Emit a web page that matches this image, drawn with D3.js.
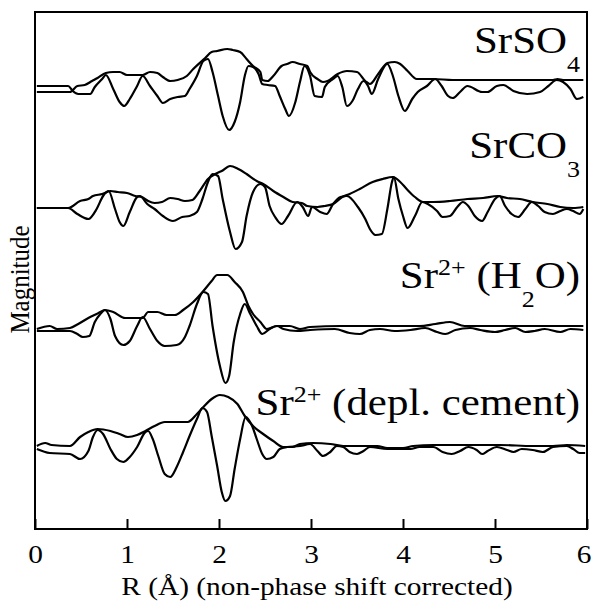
<!DOCTYPE html>
<html>
<head>
  <script src="https://cdnjs.cloudflare.com/ajax/libs/d3/7.8.5/d3.min.js"></script>
  <style>
    body { margin: 0; background: #fff; }
    .curve { fill: none; stroke: #000; stroke-width: 2.2; stroke-linejoin: round; }
    svg text { font-family: "Liberation Serif", Tinos, "Times New Roman", "DejaVu Serif", serif; fill: #000; }
  </style>
</head>
<body>
  <div id="chart"></div>
  <script>
    // x ticks / labels
    const xTicks = [0, 1, 2, 3, 4, 5, 6];
    const xTitle = "R (\u00C5) (non-phase shift corrected)";
    const yTitle = "Magnitude";

    // FT curves, [R, magnitude (arb. units incl. vertical offset)]
    const srso4Mag = [[0.02,437],[0.38,437],[0.46,443],[0.54,444],[0.62,448],[0.68,451],[0.77,456],[0.85,457],[0.92,457],[1.00,454],[1.17,454],[1.25,457],[1.33,456],[1.39,452],[1.47,448],[1.55,449],[1.65,453],[1.72,460],[1.85,471],[1.92,477],[1.98,478],[2.09,480],[2.15,479],[2.23,477],[2.30,470],[2.37,463],[2.45,457],[2.47,449],[2.53,448],[2.59,453],[2.68,463],[2.74,465],[2.80,467],[2.88,465],[2.96,463],[2.99,457],[3.07,450],[3.13,447],[3.18,448],[3.29,455],[3.39,458],[3.50,457],[3.59,448],[3.64,445],[3.73,455],[3.83,466],[3.91,467],[3.97,465],[4.05,458],[4.15,450],[4.33,450],[4.54,449],[5.05,449],[5.63,449],[5.68,450],[5.74,449],[5.96,449]];
    const srso4Im = [[0.02,443],[0.36,443],[0.41,438],[0.47,435],[0.60,435],[0.65,442],[0.73,450],[0.77,454],[0.85,440],[0.92,427],[0.97,423],[1.03,430],[1.11,443],[1.17,453],[1.25,443],[1.33,433],[1.39,426],[1.47,430],[1.55,432],[1.63,433],[1.68,440],[1.76,453],[1.83,468],[1.88,470],[1.93,457],[1.99,433],[2.04,413],[2.11,399],[2.17,407],[2.23,427],[2.28,453],[2.32,463],[2.37,462],[2.43,455],[2.47,445],[2.53,444],[2.61,443],[2.66,433],[2.72,420],[2.76,413],[2.83,427],[2.88,447],[2.93,463],[2.99,453],[3.04,433],[3.12,432],[3.15,442],[3.24,450],[3.29,453],[3.34,442],[3.39,423],[3.45,428],[3.51,440],[3.57,448],[3.62,443],[3.66,435],[3.73,450],[3.83,465],[3.89,453],[3.95,433],[4.02,418],[4.10,430],[4.16,437],[4.26,443],[4.35,450],[4.42,443],[4.49,433],[4.54,431],[4.62,437],[4.70,443],[4.86,437],[4.92,437],[5.02,443],[5.09,444],[5.20,438],[5.35,435],[5.49,437],[5.58,443],[5.67,449],[5.74,447],[5.82,440],[5.89,430],[5.96,432]];

    const srco3Mag = [[0.02,321],[0.36,321],[0.49,328],[0.58,330],[0.63,333],[0.73,335],[0.82,338],[0.90,337],[1.00,336],[1.09,333],[1.16,332],[1.23,328],[1.30,326],[1.38,327],[1.47,331],[1.55,330],[1.63,328],[1.71,329],[1.79,338],[1.88,350],[1.96,355],[2.03,358],[2.12,363],[2.21,360],[2.30,355],[2.41,348],[2.48,345],[2.59,338],[2.70,332],[2.80,327],[2.90,326],[2.96,323],[3.07,322],[3.15,323],[3.24,325],[3.34,332],[3.42,335],[3.53,340],[3.67,347],[3.78,350],[3.89,352],[3.97,347],[4.04,340],[4.13,332],[4.22,327],[4.33,327],[4.51,328],[4.70,330],[4.87,331],[5.03,333],[5.13,331],[5.27,330],[5.41,327],[5.57,325],[5.71,322],[5.85,321],[5.96,322]];
    const srco3Im = [[0.02,321],[0.36,321],[0.46,315],[0.58,310],[0.67,320],[0.74,333],[0.80,338],[0.87,320],[0.92,307],[0.96,303],[1.03,317],[1.11,332],[1.14,333],[1.22,325],[1.30,320],[1.39,313],[1.50,308],[1.60,312],[1.68,313],[1.76,317],[1.82,330],[1.88,347],[1.93,355],[1.99,353],[2.04,330],[2.12,297],[2.18,280],[2.25,287],[2.30,313],[2.37,337],[2.45,345],[2.50,342],[2.55,323],[2.61,312],[2.68,305],[2.75,313],[2.85,327],[2.91,322],[2.97,313],[3.01,322],[3.10,317],[3.17,315],[3.24,325],[3.32,332],[3.39,333],[3.51,322],[3.59,310],[3.64,300],[3.70,294],[3.77,295],[3.83,320],[3.88,347],[3.90,352],[3.95,330],[4.00,313],[4.05,301],[4.13,313],[4.21,327],[4.27,325],[4.37,318],[4.43,312],[4.51,313],[4.59,322],[4.65,327],[4.71,323],[4.78,313],[4.86,308],[4.92,317],[5.00,330],[5.05,333],[5.11,323],[5.18,315],[5.25,312],[5.33,320],[5.40,327],[5.47,323],[5.54,317],[5.63,315],[5.71,318],[5.78,320],[5.85,318],[5.92,315],[5.96,320]];

    const h2oMag = [[0.02,200],[0.16,203],[0.24,200],[0.38,201],[0.47,205],[0.58,211],[0.67,215],[0.76,219],[0.85,217],[0.98,211],[1.17,211],[1.23,217],[1.33,217],[1.43,214],[1.52,214],[1.61,219],[1.72,227],[1.83,238],[1.92,248],[1.98,254],[2.09,254],[2.17,247],[2.26,237],[2.32,223],[2.37,215],[2.45,207],[2.52,200],[2.63,203],[2.77,203],[2.88,200],[2.99,202],[3.32,203],[3.75,203],[4.18,203],[4.35,205],[4.51,207],[4.67,203],[5.96,203]];
    const h2oIm = [[0.02,198],[0.38,198],[0.46,195],[0.52,192],[0.59,193],[0.65,207],[0.71,215],[0.76,219],[0.82,210],[0.87,193],[0.96,184],[1.03,188],[1.11,203],[1.17,212],[1.25,200],[1.33,188],[1.41,183],[1.54,184],[1.63,192],[1.68,203],[1.76,225],[1.83,237],[1.88,235],[1.93,203],[2.01,163],[2.07,146],[2.11,153],[2.16,187],[2.23,215],[2.28,225],[2.34,215],[2.41,203],[2.47,195],[2.55,200],[2.63,203],[2.70,200],[2.85,198],[2.99,199],[3.26,200],[3.42,196],[3.53,195],[3.64,199],[3.75,200],[3.91,198],[4.08,199],[4.24,201],[4.37,197],[4.46,195],[4.57,199],[4.73,201],[4.84,199],[5.00,197],[5.11,199],[5.22,201],[5.33,197],[5.43,198],[5.54,200],[5.71,197],[5.82,200],[5.96,199]];

    const cementMag = [[0.02,83],[0.11,86],[0.18,84],[0.38,83],[0.49,92],[0.58,97],[0.68,100],[0.82,98],[0.92,95],[1.01,92],[1.11,94],[1.20,98],[1.30,103],[1.41,107],[1.54,107],[1.66,107],[1.76,115],[1.83,122],[1.92,130],[2.01,134],[2.10,132],[2.20,125],[2.28,113],[2.37,103],[2.48,95],[2.59,88],[2.70,82],[2.80,82],[2.88,85],[3.02,86],[3.21,85],[3.35,83],[3.72,83],[3.83,81],[4.00,81],[4.11,83],[4.33,84],[5.05,84],[5.41,83],[5.63,83],[5.78,84],[5.98,83]];
    const cementIm = [[0.02,80],[0.16,76],[0.38,75],[0.49,70],[0.58,78],[0.63,92],[0.68,99],[0.74,95],[0.82,80],[0.89,70],[0.96,67],[1.03,72],[1.11,82],[1.20,97],[1.23,98],[1.28,90],[1.34,73],[1.41,55],[1.47,52],[1.54,62],[1.61,77],[1.68,93],[1.76,110],[1.82,121],[1.87,117],[1.92,93],[1.98,63],[2.03,37],[2.07,28],[2.12,33],[2.17,60],[2.23,90],[2.29,112],[2.36,103],[2.41,90],[2.47,75],[2.52,70],[2.59,72],[2.66,80],[2.74,82],[2.88,83],[2.99,85],[3.07,78],[3.13,73],[3.21,77],[3.28,83],[3.35,82],[3.42,77],[3.50,75],[3.57,78],[3.64,82],[3.83,80],[4.08,80],[4.18,82],[4.33,82],[4.43,77],[4.53,75],[4.62,78],[4.71,82],[4.80,79],[4.86,75],[4.92,78],[5.02,82],[5.13,79],[5.20,77],[5.29,80],[5.41,79],[5.52,77],[5.63,82],[5.78,83],[5.85,80],[5.92,76],[5.98,76]];

    // labels: [text, kind] pieces, and label baseline level (same units as curves)
    const labelParts = [
      [["SrSO", ""], ["4", "sub"]],
      [["SrCO", ""], ["3", "sub"]],
      [["Sr", ""], ["2+", "sup"], [" (H", ""], ["2", "sub"], ["O)", ""]],
      [["Sr", ""], ["2+", "sup"], [" (depl. cement)", ""]]
    ];
    const labelLevels = [476, 371, 241, 114];

    const spectra = [
      {mag: srso4Mag, im: srso4Im},
      {mag: srco3Mag, im: srco3Im},
      {mag: h2oMag, im: h2oIm},
      {mag: cementMag, im: cementIm}
    ];

    const W = 594, H = 601;
    const margin = {top: 12, right: 7, bottom: 72, left: 35};
    const width = W - margin.left - margin.right;
    const height = H - margin.top - margin.bottom;
    const stretch = 1.13; // type in the original is a bit wide
    const serif = "'Liberation Serif', Tinos, 'Times New Roman', 'DejaVu Serif', serif";

    const svg = d3.select("#chart").append("svg")
      .attr("width", W)
      .attr("height", H)
      .attr("font-family", serif);
    const g = svg.append("g")
      .attr("transform", `translate(${margin.left},${margin.top})`);

    const x = d3.scaleLinear().domain([0, 6]).range([0, width]);
    const y = d3.scaleLinear().domain([0, 517]).range([height, 0]);

    const line = d3.line()
      .x(d => x(d[0]))
      .y(d => y(d[1]))
      .curve(d3.curveMonotoneX);

    spectra.forEach(s => {
      g.append("path").attr("class", "curve").attr("d", line(s.mag));
      g.append("path").attr("class", "curve").attr("d", line(s.im));
    });

    // bottom axis, ticks pointing inward
    const xAxis = g.append("g")
      .attr("transform", `translate(0,${height})`)
      .call(d3.axisBottom(x).tickValues(xTicks).tickSizeInner(-10).tickSizeOuter(0).tickFormat(d3.format("d")));
    xAxis.attr("font-family", serif);
    xAxis.select(".domain").remove();
    xAxis.selectAll(".tick line").attr("stroke", "#000").attr("stroke-width", 2);
    xAxis.selectAll(".tick text")
      .attr("y", 34)
      .attr("dy", 0)
      .attr("fill", "#000")
      .style("font-family", serif)
      .style("font-size", "26px")
      .attr("transform", `scale(${stretch},1)`);
    // keep the last label inside the window
    xAxis.selectAll(".tick text").filter(d => d === 6).attr("x", -3);

    // frame
    g.append("rect")
      .attr("x", 0).attr("y", 0)
      .attr("width", width).attr("height", height)
      .attr("fill", "none")
      .attr("stroke", "#000")
      .attr("stroke-width", 2);

    // axis titles
    g.append("text")
      .attr("transform", `translate(${x(3) + 6},${height + 66}) scale(${stretch},1)`)
      .attr("text-anchor", "middle")
      .style("font-size", "26px")
      .text(xTitle);

    g.append("text")
      .attr("transform", `translate(-6,${height / 2 + 9}) rotate(-90) scale(1,${stretch})`)
      .attr("text-anchor", "middle")
      .style("font-size", "25px")
      .text(yTitle);

    // spectrum labels
    labelParts.forEach((parts, i) => {
      const t = g.append("text")
        .attr("transform", `translate(${width - 7},${y(labelLevels[i])}) scale(${stretch},1)`)
        .attr("text-anchor", "end")
        .style("font-size", "38px");
      let shift = 0;
      parts.forEach(([txt, kind]) => {
        const target = kind === "sub" ? 19 : kind === "sup" ? -13 : 0;
        t.append("tspan")
          .attr("dy", target - shift)
          .style("font-size", kind ? "23px" : "38px")
          .text(txt);
        shift = target;
      });
    });
  </script>
</body>
</html>
